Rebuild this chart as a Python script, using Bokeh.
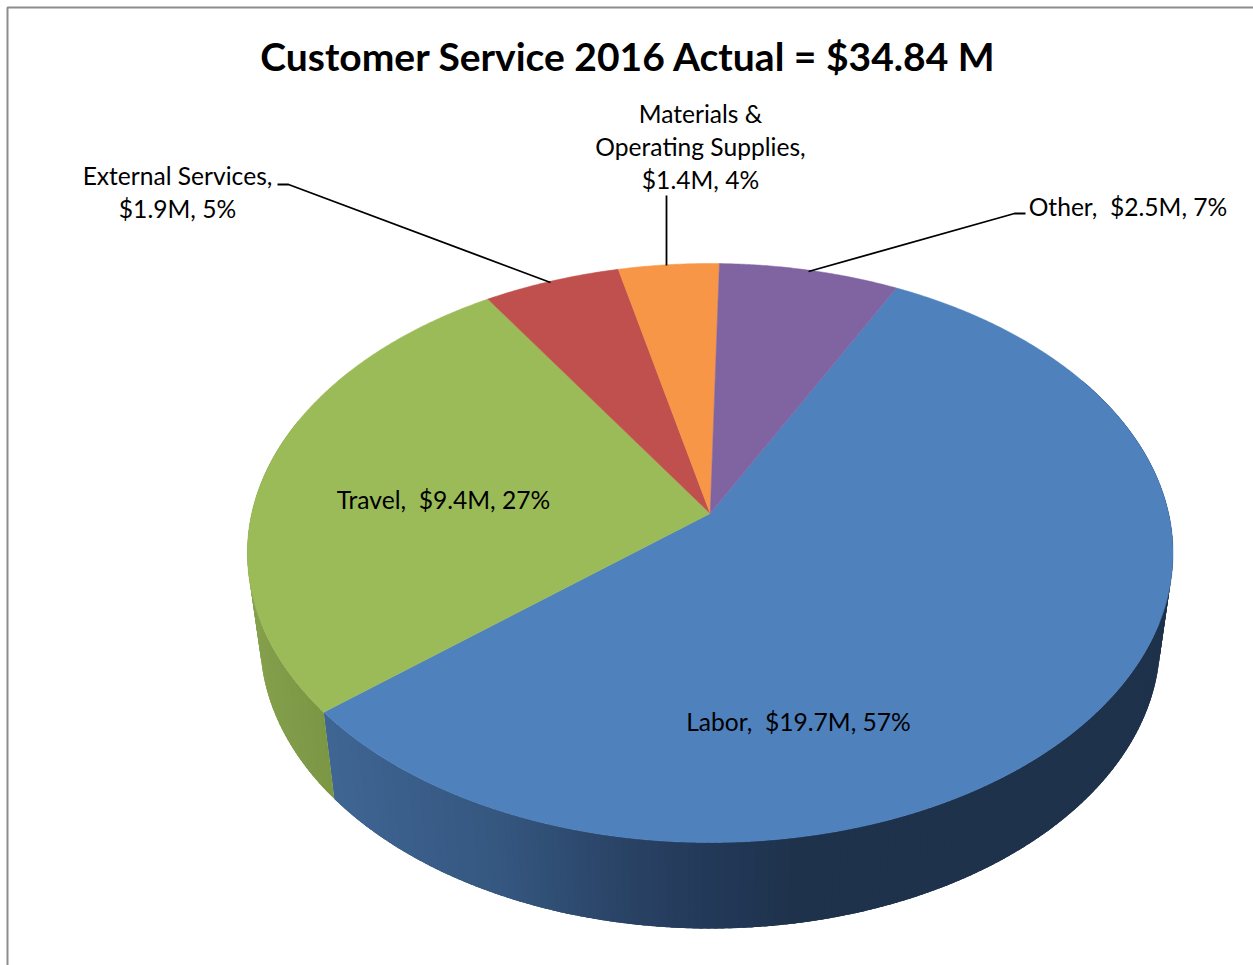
import numpy as np
from bokeh.plotting import figure
from bokeh.models import Range1d
from bokeh.core.properties import value
from bokeh.embed import file_html
from bokeh.resources import INLINE

# ---- data
title_text = "Customer Service 2016 Actual = $34.84 M"
categories = ["Labor", "Travel", "External Services", "Materials & Operating Supplies", "Other"]
values_m = [19.7, 9.4, 1.9, 1.4, 2.5]
percents = [57, 27, 5, 4, 7]
top_colors = ["#4f81bd", "#9bbb59", "#c0504d", "#f79646", "#8064a2"]
first_slice_angle = 27.1

W, H = 1253, 965
FONT = "Lato"


def lerp_hex(stops, t):
    xs = [s[0] for s in stops]
    cs = np.array([[int(s[1][i:i + 2], 16) for i in (1, 3, 5)] for s in stops], float)
    return "#%02x%02x%02x" % tuple(int(round(np.interp(t, xs, cs[:, j]))) for j in range(3))


def projector(cx, top, bottom, half_w, k):
    b = (top + bottom - (bottom - top) * k) / 2
    a = top * (1 + k) - b
    c = half_w * np.sqrt(1 - k * k)

    def proj(deg):
        th = np.radians(deg)
        u, v = np.sin(th), np.cos(th)
        d = 1 + k * v
        return cx + c * u / d, (a * v + b) / d

    return proj, b


K = 79 / 579
top_disk, apex_y = projector(709.7, 263, 842, 462.8, K)
low_disk, _ = projector(709.7, 352, 928, 450, K)

p = figure(width=W, height=H, x_range=Range1d(0, W), y_range=Range1d(H, 0),
           output_backend="svg", toolbar_location=None, min_border=0,
           background_fill_color="white", border_fill_color="white",
           outline_line_color=None, x_axis_type=None, y_axis_type=None)
p.grid.visible = False

# frame
p.line([7, 7, W], [H, 7, 7], line_color="#8c8c8c", line_width=2)

total = sum(values_m)
edges = first_slice_angle + np.concatenate([[0], np.cumsum(values_m)]) / total * 360

wall_stops = {
    0: [(335, "#3f6593"), (500, "#355780"), (620, "#2a4467"), (700, "#243a5a"), (800, "#1e324c"), (1300, "#1e324c")],
    1: [(250, "#86a14d"), (300, "#7f9a48"), (340, "#7a9643")],
}
sx, sy, sc = [], [], []
STEP = 0.8
for i in (0, 1):
    start, end = edges[i], edges[i + 1]
    if i == 1:
        end = 290
    if i == 0:
        start = 60
    angs = np.arange(start, end, STEP)
    for a0 in angs:
        a1 = min(a0 + 2.5 * STEP, end)
        mid = np.linspace(a0, a1, 4)
        tx, ty = top_disk(mid)
        lx, ly = low_disk(mid[::-1])
        sx.append(list(tx) + list(lx))
        sy.append(list(ty) + list(ly))
        xm = (top_disk(a0)[0] + low_disk(a0)[0]) / 2
        sc.append(lerp_hex(wall_stops[i], xm))
p.patches(sx, sy, fill_color=sc, line_color=None)

# top faces
for i, col in enumerate(top_colors):
    angs = np.linspace(edges[i], edges[i + 1], max(int(edges[i + 1] - edges[i]) * 3, 12))
    x, y = top_disk(angs)
    p.patch(np.r_[709.7, x], np.r_[apex_y, y], fill_color=col, line_color=col, line_width=0.5)

# leader lines
LW = 1.8
p.line([277, 288, 550], [184, 184, 282], line_color="black", line_width=LW)
p.line([666, 666], [195, 265], line_color="black", line_width=LW)
p.line([1025, 1014, 808], [213, 213, 271], line_color="black", line_width=LW)


def txt(x, y, s, size="24px", style="normal", align="center"):
    p.text([x], [y], text=[s], text_font=value(FONT), text_font_size=size, text_font_style=style,
           text_align=align, text_baseline="alphabetic", text_color="black")


txt(628, 55, title_text, "39px", "bold")


def lab(i):
    return f"${values_m[i]}M, {percents[i]}%"


SZ = "24.6px"
txt(443, 499, f"{categories[1]},\u00a0 {lab(1)}", SZ)
txt(798, 721, f"{categories[0]},\u00a0 {lab(0)}", SZ)
txt(1127.5, 206, f"{categories[4]},\u00a0 {lab(4)}", SZ)
txt(177, 175, "External Services,", SZ)
txt(177, 208, lab(2), SZ)
txt(700, 113, "Materials &", SZ)
txt(700, 146, "Operating Supplies,", SZ)
txt(700, 179, lab(3), SZ)

open("out.html", "w").write(file_html(p, INLINE))
